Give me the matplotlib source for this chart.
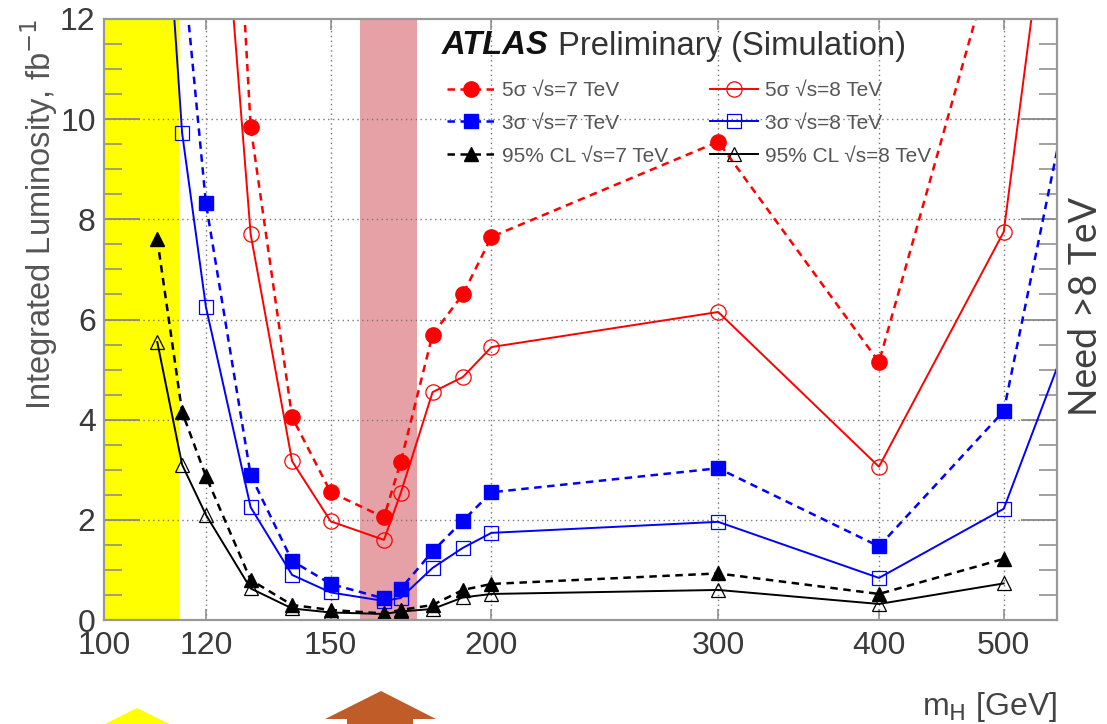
import numpy as np
import matplotlib
matplotlib.use('Agg')
import matplotlib.pyplot as plt
from matplotlib.patches import Polygon
from matplotlib.ticker import FixedLocator, NullLocator, MultipleLocator

plt.rcParams['font.family'] = ['Liberation Sans', 'DejaVu Sans']

# Higgs mass points (GeV); 600 only continues the lines past the right edge
mass = [110, 115, 120, 130, 140, 150, 165, 170, 180, 190, 200, 300, 400, 500, 600]
nan = np.nan
sig5_7 = [70, 45, 26, 9.85, 4.05, 2.55, 2.05, 3.15, 5.7, 6.5, 7.65, 9.55, 5.15, 14.0, 21.0]
sig5_8 = [45, 30, 19, 7.7, 3.17, 1.97, 1.6, 2.53, 4.55, 4.85, 5.45, 6.15, 3.06, 7.75, 23.4]
sig3_7 = [20, 13.3, 8.32, 2.89, 1.18, 0.72, 0.43, 0.62, 1.37, 1.98, 2.55, 3.03, 1.47, 4.17, 14.1]
sig3_8 = [17, 9.72, 6.25, 2.25, 0.9, 0.55, 0.38, 0.44, 1.04, 1.44, 1.74, 1.96, 0.84, 2.22, 7.6]
cl95_7 = [7.6, 4.15, 2.87, 0.8, 0.3, 0.2, 0.13, 0.2, 0.3, 0.6, 0.72, 0.93, 0.52, 1.22, nan]
cl95_8 = [5.55, 3.1, 2.1, 0.63, 0.23, 0.15, 0.12, 0.17, 0.22, 0.45, 0.52, 0.6, 0.32, 0.73, nan]

lep_band = (100, 114.4)   # excluded region (yellow)
tev_band = (158, 175)     # excluded region (pink)
xticks = [100, 120, 150, 200, 300, 400, 500]
xgrid = [120, 150, 200, 300, 400, 500]

W, H = 1107, 724
fig = plt.figure(figsize=(W / 100, H / 100), dpi=100)
ax = fig.add_axes([104 / W, 1 - 620 / H, (1057 - 104) / W, (620 - 19) / H])

ax.set_xscale('log')
ax.set_xlim(100, 550)
ax.set_ylim(0, 12)

ax.axvspan(*lep_band, color='#ffff00', lw=0, zorder=0)
ax.axvspan(*tev_band, color='#e5a1a6', lw=0, zorder=0)

gridkw = dict(color='#777777', lw=1.0, linestyle=(0, (1, 2.5)), zorder=0.5)
for g in xgrid:
    ax.axvline(g, **gridkw)
for g in [2, 4, 6, 8, 10]:
    ax.axhline(g, **gridkw)

dash = (0, (3, 2.2))
ms = 11
h1, = ax.plot(mass, sig5_7, color='red', ls=dash, lw=1.8, marker='o', ms=ms, mfc='red', mec='red')
h2, = ax.plot(mass, sig3_7, color='blue', ls=dash, lw=1.8, marker='s', ms=ms - 1, mfc='blue', mec='blue')
h3, = ax.plot(mass, cl95_7, color='black', ls=dash, lw=1.8, marker='^', ms=ms - 1, mfc='black', mec='black')
h4, = ax.plot(mass, sig5_8, color='red', ls='-', lw=1.4, marker='o', ms=ms, mfc='none', mec='red', mew=0.9)
h5, = ax.plot(mass, sig3_8, color='blue', ls='-', lw=1.4, marker='s', ms=ms - 1, mfc='none', mec='blue', mew=0.9)
h6, = ax.plot(mass, cl95_8, color='black', ls='-', lw=1.4, marker='^', ms=ms - 1, mfc='none', mec='black', mew=0.9)

legkw = dict(frameon=False, fontsize=15, handlelength=2.3, handletextpad=0.35,
             labelspacing=0.66, loc='upper left', borderaxespad=0, borderpad=0)
leg1 = ax.legend([h1, h2, h3], ['5σ √s=7 TeV', '3σ √s=7 TeV', '95% CL √s=7 TeV'],
                 bbox_to_anchor=((447 - 104) / 953, (620 - 81) / 601), **legkw)
ax.add_artist(leg1)
leg2 = ax.legend([h4, h5, h6], ['5σ √s=8 TeV', '3σ √s=8 TeV', '95% CL √s=8 TeV'],
                 bbox_to_anchor=((710 - 104) / 953, (620 - 81) / 601), **legkw)
for lg in (leg1, leg2):
    for t in lg.get_texts():
        t.set_color('#555555')

t1 = ax.text((442 - 104) / 953, (620 - 46) / 601, 'ATLAS', transform=ax.transAxes,
             fontsize=23.6, fontweight='bold', fontstyle='italic', va='center', color='#111111')
ax.annotate(' Preliminary (Simulation)', xy=(1, 0.5), xycoords=t1, va='center',
            fontsize=23.6, color='#333333')

# axes frame and ticks
for s in ax.spines.values():
    s.set_color('#999999')
    s.set_linewidth(1.6)
ax.xaxis.set_major_locator(FixedLocator(xticks))
ax.xaxis.set_minor_locator(NullLocator())
ax.set_xticklabels([str(v) for v in xticks])
ax.yaxis.set_major_locator(MultipleLocator(2))
ax.yaxis.set_minor_locator(MultipleLocator(0.5))
ax.tick_params(axis='both', which='both', direction='in', colors='#888888',
               labelcolor='#3a3a3a', labelsize=23, top=True, right=True)
ax.tick_params(axis='y', which='major', length=26, width=1.3, pad=6)
ax.tick_params(axis='y', which='minor', length=13, width=1.1)
ax.tick_params(axis='x', which='major', length=8, width=1.1, pad=8)

ax.set_ylabel('Integrated Luminosity, fb$^{-1}$', loc='top', fontsize=23.5,
              color='#555555', labelpad=0)
ax.set_xlabel('m$_{\\mathrm{H}}$ [GeV]', loc='right', fontsize=23,
              color='#444444', labelpad=21)

fig.text(1086 / W, 1 - 306 / H, 'Need >8 TeV', rotation=90, fontsize=27,
         family=['Lato', 'DejaVu Sans'], color='#404040', ha='center', va='center')

def fp(pts):
    return [(x / W, 1 - y / H) for x, y in pts]

fig.patches.append(Polygon(fp([(137, 708), (97, 728), (177, 728)]),
                           closed=True, transform=fig.transFigure, color='#ffff00', lw=0))
fig.patches.append(Polygon(fp([(381, 691), (325, 719), (347, 719), (347, 730),
                               (413, 730), (413, 719), (436, 719)]),
                           closed=True, transform=fig.transFigure, color='#c05c28', lw=0))

fig.savefig('out.png', dpi=100)
